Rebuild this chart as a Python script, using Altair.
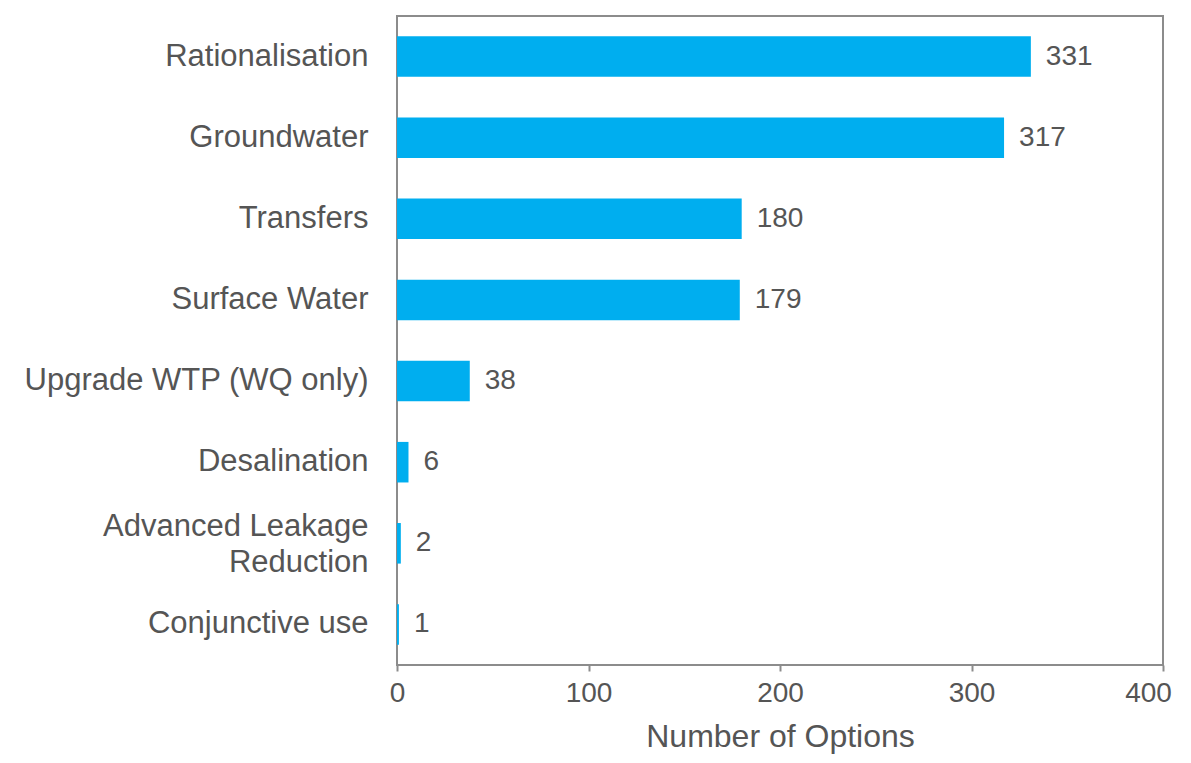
import altair as alt
import pandas as pd

categories = ["Rationalisation", "Groundwater", "Transfers", "Surface Water",
              "Upgrade WTP (WQ only)", "Desalination", "Advanced Leakage Reduction",
              "Conjunctive use"]
values = [331, 317, 180, 179, 38, 6, 2, 1]
x_ticks = [0, 100, 200, 300, 400]

df = pd.DataFrame({"category": categories, "value": values})

FONT = "Liberation Sans"
TXT = "#555555"
GRAY = "#8c8c8c"

y_enc = alt.Y("category:N", sort=categories, title=None,
              scale=alt.Scale(paddingInner=0.5, paddingOuter=0.25),
              axis=alt.Axis(labelFont=FONT, labelFontSize=31, labelColor=TXT,
                            labelPadding=29, ticks=False, domain=False,
                            labelLimit=400, labelLineHeight=36,
                            labelOffset={"condition": {"test": "datum.value == 'Advanced Leakage Reduction'",
                                                       "value": -16}, "value": 0},
                            labelExpr="datum.label == 'Advanced Leakage Reduction' ? ['Advanced Leakage', 'Reduction'] : datum.label"))
x_enc = alt.X("value:Q", title="Number of Options",
              scale=alt.Scale(domain=[0, 400], nice=False),
              axis=alt.Axis(values=x_ticks, labelFont=FONT, labelFontSize=28,
                            labelColor=TXT, titleFont=FONT, titleFontSize=32,
                            titleColor=TXT, titleFontWeight="normal",
                            tickColor=GRAY, tickSize=6, tickWidth=2,
                            labelFlush=False,
                            labelOffset={"condition": {"test": "datum.value == 400",
                                                       "value": -15}, "value": 0},
                            domain=False, grid=False, labelPadding=8,
                            titlePadding=14))

bars = alt.Chart(df).mark_bar(color="#00AEEF").encode(x=x_enc, y=y_enc)
labels = alt.Chart(df).mark_text(align="left", baseline="middle", dx=15,
                                 font=FONT, fontSize=28, color=TXT).encode(
    x="value:Q", y=alt.Y("category:N", sort=categories), text="value:Q")

chart = (bars + labels).properties(
    width=766, height=649, autosize="none", background="white",
    padding={"left": 389, "top": 8, "right": 16, "bottom": 90}
).configure_view(stroke=GRAY, strokeWidth=2)

chart.save("out.html", embed_options={"renderer": "svg", "actions": False})
